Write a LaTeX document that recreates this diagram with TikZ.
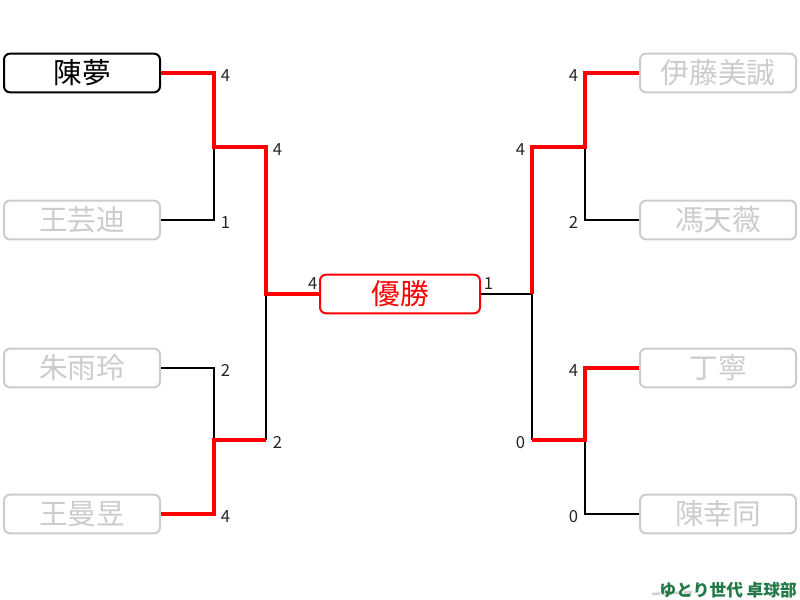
\documentclass[tikz,border=0pt]{standalone}
\usepackage{fontspec}
\setmainfont{Noto Sans CJK JP}
\newfontfamily\cjk{Noto Sans CJK JP}
\definecolor{boxgray}{RGB}{204,204,204}
\definecolor{winred}{RGB}{255,0,0}
\definecolor{wmgreen}{RGB}{34,120,70}
\tikzset{
  player/.style={draw=boxgray, line width=1.5pt, rounded corners=4.5pt, fill=white,
    minimum width=117pt, minimum height=29pt, inner sep=0pt, text=boxgray,
    font=\cjk\fontsize{21.5}{21.5}\selectfont},
  champ/.style={player, draw=black, text=black},
  final/.style={player, draw=winred, text=winred, minimum width=120pt},
  lose/.style={draw=black, line width=1.5pt},
  win/.style={draw=winred, line width=3pt},
  score/.style={font=\cjk\fontsize{12.5}{12.5}\selectfont, text=black!85, inner sep=0pt},
}
\begin{document}
\begin{tikzpicture}[x=0.75pt,y=-0.75pt]
\useasboundingbox (0,0) rectangle (800,600);
% players
\node[champ]  (p1) at (82,73)  {陳夢};
\node[player] (p2) at (82,220) {王芸迪};
\node[player] (p3) at (82,368) {朱雨玲};
\node[player] (p4) at (82,514) {王曼昱};
\node[player] (p5) at (718,73)  {伊藤美誠};
\node[player] (p6) at (718,220) {馮天薇};
\node[player] (p7) at (718,368) {丁寧};
\node[player] (p8) at (718,514) {陳幸同};
\node[final]  (fin) at (400,294) {優勝};
% joints
\coordinate (L1a) at (214,73);  \coordinate (L1m) at (214,147); \coordinate (L1b) at (214,220);
\coordinate (L2a) at (214,368); \coordinate (L2m) at (214,440); \coordinate (L2b) at (214,514);
\coordinate (L3a) at (266,147); \coordinate (L3m) at (266,294); \coordinate (L3b) at (266,440);
\coordinate (R1a) at (585,73);  \coordinate (R1m) at (585,147); \coordinate (R1b) at (585,220);
\coordinate (R2a) at (585,368); \coordinate (R2m) at (585,440); \coordinate (R2b) at (585,514);
\coordinate (R3a) at (532,147); \coordinate (R3m) at (532,294); \coordinate (R3b) at (532,440);
% losing lines
\draw[lose] (p2.east) -- (L1b) -- (L1m);
\draw[lose] (p3.east) -- (L2a) -- (L2m);
\draw[lose] (L3m) -- (L3b);
\draw[lose] (p6.west) -- (R1b) -- (R1m);
\draw[lose] (p8.west) -- (R2b) -- (R2m);
\draw[lose] (fin.east) -- (R3m) -- (R3b);
% winning lines
\draw[win] (p1.east) -- (L1a) -- (L1m) -- (L3a) -- (L3m) -- (fin.west);
\draw[win] (p4.east) -- (L2b) -- (L2m) -- (L3b);
\draw[win] (p5.west) -- (R1a) -- (R1m) -- (R3a) -- (R3m);
\draw[win] (p7.west) -- (R2a) -- (R2m) -- (R3b);
% scores
\node[score, anchor=west] at ([xshift=5pt,yshift=-2pt]L1a) {4};
\node[score, anchor=west] at ([xshift=5pt,yshift=-2pt]L1b) {1};
\node[score, anchor=west] at ([xshift=5pt,yshift=-2pt]L2a) {2};
\node[score, anchor=west] at ([xshift=5pt,yshift=-2pt]L2b) {4};
\node[score, anchor=west] at ([xshift=5pt,yshift=-2pt]L3a) {4};
\node[score, anchor=west] at ([xshift=5pt,yshift=-2pt]L3b) {2};
\node[score, anchor=east] at ([xshift=-5pt,yshift=-2pt]R1a) {4};
\node[score, anchor=east] at ([xshift=-5pt,yshift=-2pt]R1b) {2};
\node[score, anchor=east] at ([xshift=-5pt,yshift=-2pt]R2a) {4};
\node[score, anchor=east] at ([xshift=-5pt,yshift=-2pt]R2b) {0};
\node[score, anchor=east] at ([xshift=-5pt,yshift=-2pt]R3a) {4};
\node[score, anchor=east] at ([xshift=-5pt,yshift=-2pt]R3b) {0};
\node[score, anchor=south east] at ([xshift=-1pt,yshift=3.5pt]fin.west) {4};
\node[score, anchor=south west] at ([xshift=2pt,yshift=3.5pt]fin.east) {1};
% watermark shadow streaks
\draw[gray!60, line width=2pt, opacity=0.6, dash pattern=on 6pt off 2pt] (652,594) -- (696,592);
% watermark
\node[font=\cjk\bfseries\fontsize{12.5}{12.5}\selectfont, text=wmgreen, anchor=east, inner sep=0pt]
  (wm) at (797,590) {ゆとり世代 卓球部};
\end{tikzpicture}
\end{document}
